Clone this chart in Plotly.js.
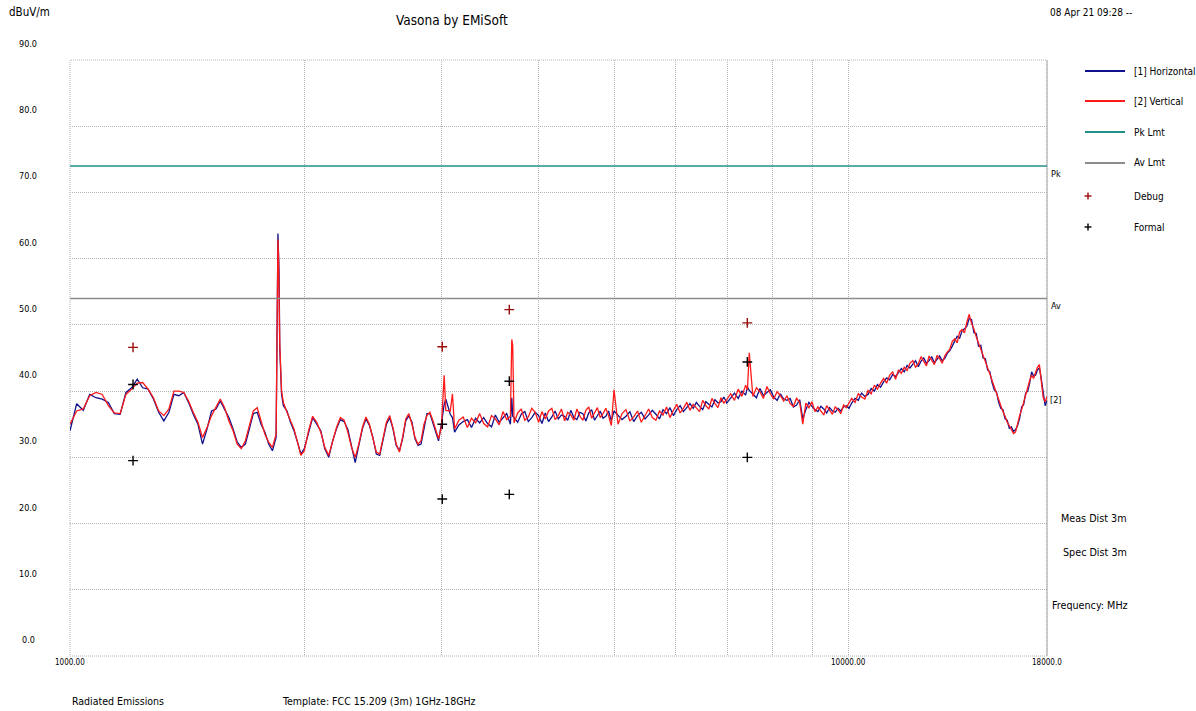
<!DOCTYPE html>
<html>
<head>
<meta charset="utf-8">
<title>Vasona by EMiSoft - Radiated Emissions</title>
<script src="https://cdn.plot.ly/plotly-3.0.1.min.js"></script>
<style>
  html, body { margin: 0; padding: 0; background: #ffffff; }
  #chart { width: 1196px; height: 711px; }
</style>
</head>
<body>
<div id="chart"></div>
<script>
// Sweep frequencies (MHz)
const freqs = [
  1000,1020,1040,1060,1080,1100,1120,1140,1160,1180,
  1200,1220,1240,1260,1280,1300,1320,1340,1360,1380,
  1400,1420,1440,1460,1480,1500,1520,1540,1560,1580,
  1600,1620,1640,1660,1680,1700,1720,1740,1760,1780,
  1800,1820,1840,1843,1847,1850,1853,1856,1860,1870,
  1880,1900,1920,1940,1960,1980,2000,
  2025,2050,2075,2100,2125,2150,2175,2200,2225,2250,
  2275,2300,2325,2350,2375,2400,2425,2450,2475,2500,
  2525,2550,2575,2600,2625,2650,2675,2700,2725,2750,
  2775,2800,2825,2850,2875,2900,2925,2950,2975,3000,
  3025,3040,3080,3100,3120,3160,3200,3240,3280,3320,
  3360,3400,3440,3480,3520,3560,3600,3640,3680,3695,
  3705,3720,3760,3800,3840,3880,3920,3960,4000,4040,
  4080,4120,4160,4200,4240,4280,4320,4360,4400,4440,
  4480,4520,4560,4600,4640,4680,4720,4760,4800,4840,
  4880,4920,4960,5000,
  5060,5120,5180,5240,5300,5360,5420,5480,5540,5600,
  5660,5720,5780,5840,5900,5960,6020,6080,6140,6200,
  6260,6320,6380,6440,6500,6560,6620,6680,6740,6800,
  6860,6920,6980,7060,7140,7220,7300,7380,7420,7460,
  7540,7620,7700,7780,7860,7940,8020,8100,8180,8260,
  8340,8420,8500,8580,8660,8740,8820,8900,8980,9060,
  9140,9220,9300,9380,9460,9540,9620,9700,9780,9860,
  9940,10020,
  10100,10200,10300,10400,10500,10600,10700,10800,10900,11000,
  11100,11200,11300,11400,11500,11600,11700,11800,11900,12000,
  12100,12200,12300,12400,12500,12600,12700,12800,12900,13000,
  13100,13200,13300,13400,13500,13600,13700,13800,13900,14000,
  14100,14200,14300,14400,14500,14600,14700,14800,14900,15000,
  15100,15200,15300,15400,15500,15600,15700,15800,15900,16000,
  16100,16200,16300,16400,16500,16600,16700,16800,16900,17000,
  17100,17200,17300,17400,17500,17600,17700,17800,17900,18000
];

// [1] Horizontal polarisation (dBuV/m)
const horizontal = [
  34.0,38.1,37.1,39.5,39.0,38.8,38.3,36.6,36.5,39.8,
  40.5,41.8,40.5,40.3,38.8,36.8,35.5,36.8,39.5,39.3,
  39.8,38.3,36.5,35.0,32.0,34.3,37.0,37.3,38.5,37.3,
  36.0,34.3,32.3,31.5,32.0,34.3,36.6,36.8,35.0,33.8,
  32.0,31.0,33.0,42.0,56.0,63.8,61.0,58.2,46.5,39.5,
  37.8,37.0,35.3,34.0,32.3,30.5,31.3,
  33.8,36.0,35.0,34.0,31.3,30.0,32.5,34.3,35.7,35.4,
  34.2,31.8,29.2,31.8,34.3,35.8,34.8,33.0,30.5,30.3,
  32.8,35.0,36.0,34.3,31.8,31.0,32.8,35.5,36.3,35.3,
  32.8,31.8,32.0,34.5,36.6,36.6,35.3,33.8,32.5,35.0,
  38.0,38.8,36.5,36.0,33.8,34.9,35.4,35.7,34.5,35.9,
  35.2,36.0,35.1,34.6,36.4,35.3,35.9,36.6,35.0,39.0,
  36.2,36.0,35.3,36.5,36.9,35.4,36.0,36.8,36.3,35.1,
  36.7,35.4,36.1,37.0,35.8,36.4,36.2,35.6,37.1,36.0,
  35.7,36.8,36.6,35.5,36.7,37.2,35.6,36.3,37.0,35.9,
  36.2,37.0,35.5,37.0,
  36.3,35.7,36.2,36.9,35.4,36.3,36.8,35.8,36.4,37.1,
  36.5,35.8,37.2,36.6,37.5,36.3,37.2,37.8,36.9,37.6,
  38.1,37.4,38.3,37.7,37.2,38.4,38.0,37.6,38.7,38.2,
  38.4,39.1,38.2,39.0,39.7,38.9,40.0,39.4,40.6,40.1,
  39.6,39.0,40.4,39.3,39.8,40.2,39.1,38.6,39.6,38.8,
  38.6,38.9,37.6,37.9,38.7,35.8,37.2,38.3,37.7,37.2,
  36.9,37.7,37.3,36.7,37.5,37.0,36.8,37.4,37.0,37.6,
  37.8,37.4,
  38.2,38.9,38.6,39.7,39.2,39.5,40.4,40.0,41.0,40.6,
  41.4,42.0,41.7,42.5,42.2,42.8,43.4,42.9,43.9,43.5,
  44.0,44.6,43.7,44.5,45.0,44.2,44.6,45.2,44.3,44.8,
  45.3,44.6,44.9,45.7,46.1,46.8,47.7,48.3,48.0,49.1,
  49.4,49.8,51.0,50.8,48.8,48.7,46.8,46.9,45.0,44.9,
  43.2,42.9,41.3,40.2,39.9,38.3,37.4,37.2,35.8,35.6,
  34.4,34.6,33.9,34.2,34.8,35.9,37.6,38.0,39.7,40.0,
  41.2,42.9,42.3,42.4,43.2,43.5,41.8,39.4,37.8,38.6
];

// [2] Vertical polarisation (dBuV/m)
const vertical = [
  35.0,37.0,37.3,39.3,39.8,39.5,37.8,36.7,36.6,39.5,
  40.3,41.2,41.3,40.3,39.0,37.0,36.3,37.3,40.0,40.0,
  39.8,38.5,36.8,35.3,33.0,34.5,36.3,37.5,38.8,37.5,
  35.5,34.0,32.0,31.3,32.5,34.8,37.0,37.5,35.5,33.5,
  32.3,31.5,33.5,44.0,57.5,62.9,60.5,56.5,47.0,40.0,
  38.3,36.8,35.5,34.3,32.3,30.3,31.0,
  34.0,36.2,35.3,33.8,31.5,30.3,32.3,34.5,36.0,35.6,
  33.8,31.5,30.0,32.0,34.5,36.1,35.0,32.8,30.8,30.5,
  33.0,35.3,36.3,34.5,32.0,30.8,33.0,35.8,36.6,35.0,
  33.0,32.0,32.5,35.0,36.3,36.8,35.6,34.0,32.8,34.5,
  42.4,37.1,37.0,39.6,34.3,35.6,36.1,34.5,35.9,35.2,
  36.6,35.1,34.6,36.3,35.8,34.9,36.9,35.7,36.2,47.8,
  46.9,35.2,36.7,37.3,35.6,36.1,37.4,36.8,35.3,36.9,
  35.8,37.0,37.4,35.7,36.3,37.3,35.5,36.8,36.4,35.6,
  37.3,36.2,35.6,37.1,37.6,35.9,36.7,37.5,36.0,36.6,
  37.4,36.3,34.8,40.2,
  35.0,36.6,37.2,35.5,36.1,37.0,35.3,36.4,37.3,36.0,
  35.6,37.0,36.4,37.6,36.0,37.1,38.0,36.7,37.4,38.3,
  37.1,38.0,37.5,36.9,38.6,37.8,37.3,38.9,38.1,37.5,
  39.0,38.2,38.7,39.6,38.6,40.3,39.2,40.9,40.2,45.8,
  39.2,40.5,39.9,38.9,40.7,39.6,38.8,39.9,39.3,38.5,
  39.3,38.1,37.7,38.9,38.3,35.0,38.2,37.5,38.4,36.9,
  37.6,37.0,36.4,37.8,37.1,36.5,37.6,37.2,36.6,37.9,
  37.5,38.2,
  38.9,38.3,39.6,39.1,38.8,40.1,39.6,40.9,40.3,41.2,
  41.9,41.2,42.4,42.9,41.8,43.2,42.7,43.6,43.1,44.2,
  44.6,43.6,44.1,45.2,44.4,43.8,45.3,44.7,44.0,45.4,
  44.9,44.2,45.3,45.9,46.3,47.5,47.9,47.3,48.9,49.3,
  48.8,50.4,51.6,50.2,49.4,48.2,47.3,46.4,45.5,44.6,
  43.6,42.6,41.6,40.6,39.6,38.6,37.8,36.9,36.2,35.3,
  34.8,34.2,33.6,33.8,35.2,36.3,37.2,38.4,39.3,40.4,
  41.6,42.4,41.9,42.8,43.6,44.0,41.2,39.0,38.4,39.2
];

// FCC 15.209 (3 m) limits above 1 GHz
const limitFreqs = [1000, 18000];
const peakLimit = [74, 74];
const avgLimit = [54, 54];

// Marker readings
const debugFreqs = [1205, 3008, 3668, 7417];
const debugLevels = [46.6, 46.7, 52.3, 50.3];
const formalFreqs = [1205, 1205, 3008, 3008, 3668, 3668, 7417, 7417];
const formalLevels = [41.0, 29.5, 35.0, 23.7, 41.5, 24.4, 44.4, 30.0];

// Axis ticks
const yTicks = [0, 10, 20, 30, 40, 50, 60, 70, 80, 90];
const yTickLabels = ['0.0', '10.0', '20.0', '30.0', '40.0', '50.0', '60.0', '70.0', '80.0', '90.0'];
const xGrid = [1000, 2000, 3000, 4000, 5000, 6000, 7000, 8000, 9000, 10000];
const xLabelFreqs = [1000, 10000, 18000];
const xLabels = ['1000.00', '10000.00', '18000.0'];

const FONT = "'DejaVu Sans Condensed', 'Liberation Sans Narrow', 'Arial Narrow', sans-serif";

const traces = [
  { x: freqs, y: horizontal, name: '[1] Horizontal', type: 'scatter', mode: 'lines',
    line: { color: '#10108c', width: 1.3 } },
  { x: freqs, y: vertical, name: '[2] Vertical', type: 'scatter', mode: 'lines',
    line: { color: '#ff1a1a', width: 1.3 } },
  { x: limitFreqs, y: peakLimit, name: 'Pk Lmt', type: 'scatter', mode: 'lines',
    line: { color: '#1f9188', width: 1.5 } },
  { x: limitFreqs, y: avgLimit, name: 'Av Lmt', type: 'scatter', mode: 'lines',
    line: { color: '#8c8c8c', width: 1.5 } },
  { x: debugFreqs, y: debugLevels, name: 'Debug', type: 'scatter', mode: 'markers',
    marker: { symbol: 'cross-thin', size: 7, line: { color: '#9b0a0a', width: 1.4 } } },
  { x: formalFreqs, y: formalLevels, name: 'Formal', type: 'scatter', mode: 'markers',
    marker: { symbol: 'cross-thin', size: 7, line: { color: '#000000', width: 1.4 } } }
];

// Plot area geometry in page pixels
const PLOT_W = 977, PLOT_H = 596, PLOT_LEFT = 70, PLOT_TOP = 60;
const px = (x) => (x - PLOT_LEFT) / PLOT_W;
const py = (y) => 1 - (y - PLOT_TOP) / PLOT_H;

const annotations = [];
const shapes = [];
function note(text, x, y, size, opts) {
  annotations.push(Object.assign({
    text: text, x: x, y: y, xref: 'paper', yref: 'paper',
    showarrow: false, xanchor: 'left', yanchor: 'middle',
    font: { family: FONT, size: size, color: '#000000' }
  }, opts || {}));
}

note('dBuV/m', px(7), py(12), 11.5);
note('Vasona by EMiSoft', px(452), py(20), 13.5, { xanchor: 'center' });
note('08 Apr 21 09:28 --', px(1048), py(13), 10);
note('Radiated Emissions', px(70), py(701), 10.5);
note('Template: FCC 15.209 (3m) 1GHz-18GHz', px(280), py(701), 10.5);
note('Meas Dist 3m', px(1059), py(518), 10.7);
note('Spec Dist 3m', px(1061), py(552), 10.7);
note('Frequency: MHz', px(1050), py(605), 10.7);

// Legend column on the right, one row per trace
const legendRows = [71, 101, 132, 163, 196, 227];
traces.forEach((t, i) => {
  const yy = py(legendRows[i]);
  if (t.mode === 'lines') {
    shapes.push({ type: 'line', xref: 'paper', yref: 'paper',
      x0: px(1085), x1: px(1125), y0: yy, y1: yy,
      line: { color: t.line.color, width: 2 } });
  } else {
    const c = t.marker.line.color;
    const h = 3.5;
    shapes.push({ type: 'line', xref: 'paper', yref: 'paper',
      x0: px(1088 - h), x1: px(1088 + h), y0: yy, y1: yy, line: { color: c, width: 1.4 } });
    shapes.push({ type: 'line', xref: 'paper', yref: 'paper',
      x0: px(1088), x1: px(1088), y0: py(legendRows[i] - h), y1: py(legendRows[i] + h),
      line: { color: c, width: 1.4 } });
  }
  note(t.name, px(1132), yy, 10);
});

// Limit tags and trace tag at the right edge
annotations.push({ text: 'Pk', xref: 'paper', x: px(1049), yref: 'y', y: peakLimit[1], yshift: -8,
  showarrow: false, xanchor: 'left', yanchor: 'middle', font: { family: FONT, size: 9, color: '#000' } });
annotations.push({ text: 'Av', xref: 'paper', x: px(1049), yref: 'y', y: avgLimit[1], yshift: -8,
  showarrow: false, xanchor: 'left', yanchor: 'middle', font: { family: FONT, size: 9, color: '#000' } });
annotations.push({ text: '[2]', xref: 'paper', x: px(1048), yref: 'y', y: vertical[vertical.length - 1], yshift: -4,
  showarrow: false, xanchor: 'left', yanchor: 'middle', font: { family: FONT, size: 9, color: '#000' } });

// Level labels sit just above their grid lines
yTicks.forEach((v, i) => {
  annotations.push({ text: yTickLabels[i], xref: 'paper', x: px(28), yref: 'y', y: v, yshift: 16,
    showarrow: false, xanchor: 'center', yanchor: 'middle',
    font: { family: FONT, size: 9, color: '#000' } });
});
// Frequency labels below the axis
xLabelFreqs.forEach((f, i) => {
  annotations.push({ text: xLabels[i], xref: 'x', x: Math.log10(f), yref: 'paper', y: py(662),
    showarrow: false, xanchor: 'center', yanchor: 'middle',
    font: { family: FONT, size: 8, color: '#000' } });
});

// Plot frame: dotted on three sides, solid on the right
shapes.push({ type: 'rect', xref: 'paper', yref: 'paper', x0: 0, x1: 1, y0: 0, y1: 1,
  line: { color: '#b4b4b4', width: 1, dash: '1px,1px' }, layer: 'below' });
shapes.push({ type: 'line', xref: 'paper', yref: 'paper', x0: 1, x1: 1, y0: 0, y1: 1,
  line: { color: '#a8a8a8', width: 1 }, layer: 'below' });

const layout = {
  width: 1196, height: 711,
  margin: { l: 70, r: 149, t: 60, b: 55, pad: 0 },
  paper_bgcolor: '#ffffff', plot_bgcolor: '#ffffff',
  font: { family: FONT, size: 12, color: '#000' },
  showlegend: false,
  xaxis: {
    type: 'log', range: [Math.log10(1000), Math.log10(18000)],
    tickvals: xGrid, showticklabels: false, ticks: '',
    showgrid: true, gridcolor: '#b4b4b4', gridwidth: 1, griddash: '1px,1px',
    zeroline: false, showline: false, fixedrange: true
  },
  yaxis: {
    range: [0, 90], tickvals: yTicks, showticklabels: false, ticks: '',
    showgrid: true, gridcolor: '#b4b4b4', gridwidth: 1, griddash: '1px,1px',
    zeroline: false, showline: false, fixedrange: true
  },
  shapes: shapes,
  annotations: annotations,
  hovermode: false
};

Plotly.newPlot('chart', traces, layout, { displayModeBar: false, staticPlot: true });
</script>
</body>
</html>
